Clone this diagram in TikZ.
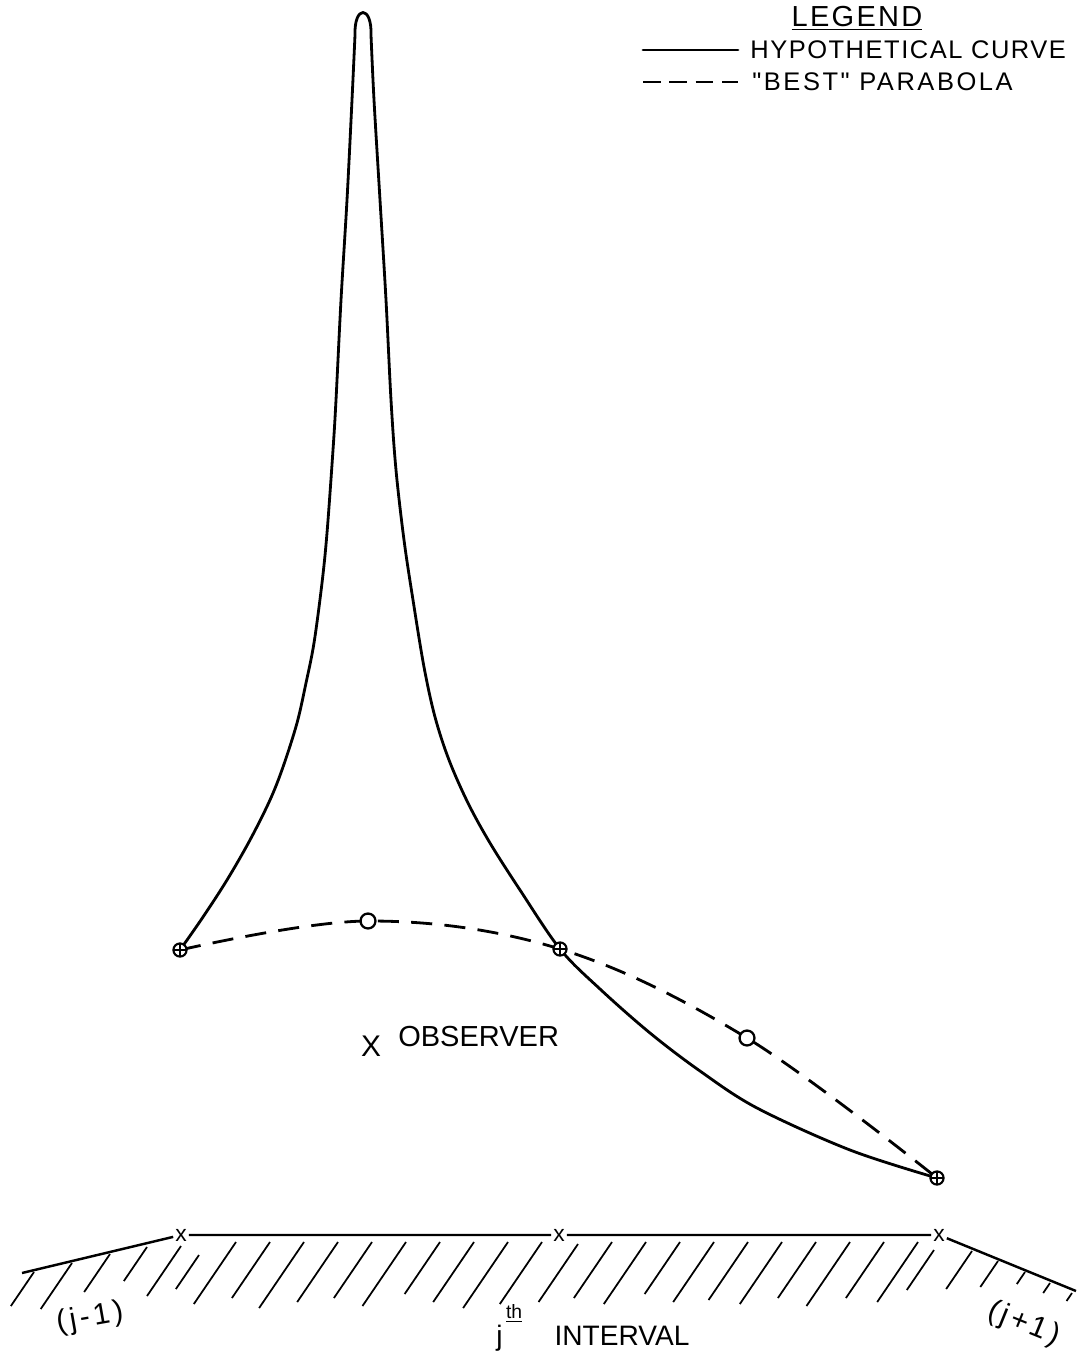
\documentclass[tikz,border=0pt]{standalone}
\usepackage{fontspec}
\setmainfont{Liberation Sans}
\newfontfamily\qfont{Liberation Sans}[Ligatures=TeXOff]
\pgfdeclarelayer{bg}
\pgfsetlayers{bg,main}
\begin{document}
\begin{tikzpicture}[x=0.02cm,y=-0.02cm,
  lw/.style={line width=1.6pt,line cap=round,line join=round},
  opl/.style={circle,draw,line width=1.2pt,fill=white,minimum size=7.5pt,inner sep=0pt,
    path picture={\draw[line width=0.9pt] (path picture bounding box.north)--(path picture bounding box.south)
      (path picture bounding box.west)--(path picture bounding box.east);}},
  ocirc/.style={circle,draw,line width=1.3pt,fill=white,minimum size=8.5pt,inner sep=0pt},
  dsh/.style={line width=1.6pt,dash pattern=on 12pt off 7pt},
  lab/.style={font=\fontsize{16}{18}\selectfont,inner sep=0pt},
  leglab/.style={font=\qfont\fontsize{14.5}{16}\selectfont\addfontfeature{LetterSpace=6},inner sep=0pt},
  gx/.style={font=\fontsize{13}{13}\selectfont,inner sep=1pt},
  hatch/.style={line width=1pt}]
\useasboundingbox (0,0) rectangle (1076,1365);

% points on curves
\node[opl] (p1) at (180,950) {};
\node[opl] (p2) at (560,949) {};
\node[opl] (p3) at (937,1178) {};
\node[ocirc] (o1) at (368,921) {};
\node[ocirc] (o2) at (747,1038) {};

\begin{pgfonlayer}{bg}
% hypothetical curve
\draw[lw] plot[smooth,tension=0.55] coordinates {(p1.center) (203,917) (227,880) (250,840) (270,800) (283,767) (297,723) (306,683) (314,643) (322,583) (327,533) (333,450) (336,400) (341,300) (347,200) (352,100) (355,35)}
  .. controls (354,5) and (372,5) .. (371,35)
  -- plot[smooth,tension=0.55] coordinates {(371,35) (374,100) (380,200) (386,300) (391,400) (396,470) (404,540) (413,600) (424,667) (435,717) (449,760) (468,803) (490,843) (520,890) (p2.center) (600,989) (650,1033) (700,1071) (757,1108) (850,1150) (p3.center)};
% best parabola
\draw[dsh] plot[smooth,tension=0.6] coordinates {(p1.center) (o1.center) (p2.center) (o2.center) (p3.center)};
\end{pgfonlayer}

% ground profile
\node[gx] (g1) at (181,1235) {x};
\node[gx] (g2) at (559,1235) {x};
\node[gx] (g3) at (939,1235) {x};
\coordinate (gl) at (22,1273);
\coordinate (gr) at (1076,1291);
\draw[line width=1.4pt] (gl) -- (g1) -- (g2) -- (g3) -- (gr);

% hatching
\foreach \x/\y/\l in {34/1272/34, 72/1263/46, 110/1254/38, 147/1247/34, 181/1246/50, 199/1255/34,
  236/1242/62, 270/1242/56, 304/1242/66, 338/1242/60, 372/1242/56, 406/1242/64, 440/1242/52,
  474/1242/60, 508/1242/66, 542/1242/62, 578/1244/58, 612/1242/56, 646/1242/62, 680/1242/52,
  714/1242/60, 748/1242/58, 782/1242/62, 816/1242/56, 850/1242/64, 884/1242/56, 918/1242/60,
  934/1250/40, 972/1251/38, 998/1261/26, 1025/1272/12, 1050/1283/10, 1072/1293/8}
  \draw[hatch] (\x,\y) -- ++(-0.68*\l,\l);

% labels
\node[lab,font=\fontsize{17}{18}\selectfont\addfontfeature{LetterSpace=12},rotate=10] (jm) at (90,1318) {(j-1)};
\node[lab,font=\fontsize{17}{18}\selectfont\addfontfeature{LetterSpace=12},rotate=-22] (jp) at (1024,1324) {(j+1)};
\node[lab,anchor=base west] (jth) at (496,1345) {j\hspace{2pt}\raisebox{15pt}{\fontsize{11}{11}\selectfont\underline{th}}\hspace{1.15em}INTERVAL};

\node[lab,font=\fontsize{17}{18}\selectfont] (obsx) at (371,1046) {X};
\node[lab,font=\fontsize{16.5}{18}\selectfont,anchor=west] (obs) at (398,1037) {OBSERVER};

% legend
\node[leglab,font=\qfont\fontsize{16.5}{18}\selectfont\addfontfeature{LetterSpace=8}] (leg) at (857,18) {\underline{LEGEND}};
\coordinate (ls1) at (643,50);
\coordinate (ls2) at (738,50);
\draw[lw] (ls1) -- (ls2);
\node[leglab,anchor=west] (lt1) at (750,50) {HYPOTHETICAL CURVE};
\coordinate (ld1) at (643,82);
\coordinate (ld2) at (738,82);
\draw[line width=1.6pt,dash pattern=on 10pt off 5pt] (ld1) -- (ld2);
\node[leglab,font=\qfont\fontsize{14.5}{16}\selectfont\addfontfeature{LetterSpace=10},anchor=west] (lt2) at (752,82) {"BEST"\ PARABOLA};
\end{tikzpicture}
\end{document}
